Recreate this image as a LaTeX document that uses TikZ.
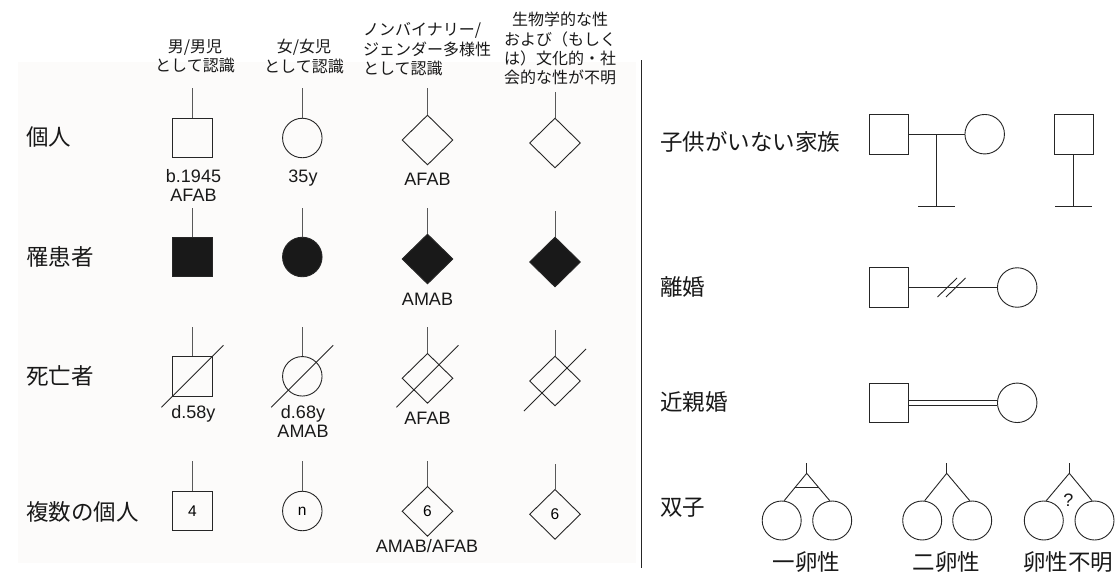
\documentclass[tikz,border=0pt]{standalone}
\usepackage{fontspec}
\setmainfont{Liberation Sans}
\newfontfamily\jp{Noto Sans CJK JP}
\usetikzlibrary{shapes.geometric,calc}
\definecolor{panel}{RGB}{252,251,250}
\begin{document}
\begin{tikzpicture}[x=1pt,y=-1pt,
  ln/.style={line width=0.9pt, draw=black!85},
  stub/.style={line width=0.9pt, draw=black!65},
  sq/.style={ln, rectangle, minimum size=39.5pt, inner sep=0pt},
  ci/.style={ln, circle, minimum size=39.5pt, inner sep=0pt},
  dm/.style={ln, diamond, minimum width=51pt, minimum height=50pt, inner sep=0pt},
  aff/.style={fill=black!90},
  lat/.style={font=\fontsize{18}{19}\selectfont, text=black!90, inner sep=0pt, anchor=base},
  num/.style={font=\fontsize{15.5}{15.5}\selectfont},
  hdr/.style={font=\jp\fontsize{16}{19.3}\selectfont, text=black!90, inner sep=0pt},
  rowlab/.style={font=\jp\fontsize{22.5}{24}\selectfont, text=black!90, anchor=west, inner sep=0pt},
  twinlab/.style={font=\jp\fontsize{22.5}{24}\selectfont, text=black!90, inner sep=0pt},
]
\useasboundingbox (0,0) rectangle (1120,576);
\fill[white] (0,0) rectangle (1120,576);
\fill[panel] (18,62) rectangle (636,563);

% ---------- headers ----------
\node[hdr, align=center] (h1) at (195,56.5) {男/男児\\として認識};
\node[hdr, align=center] (h2) at (304,56.5) {女/女児\\として認識};
\node[hdr, align=left, anchor=west] (h3) at (363,49.3) {ノンバイナリー/\\ジェンダー多様性\\として認識};
\node[hdr, align=center] (h4) at (560,48.7) {生物学的な性\\および（もしく\\は）文化的・社\\会的な性が不明};

% ---------- row labels (left) ----------
\node[rowlab] (r1) at (26,137) {個人};
\node[rowlab] (r2) at (26,257) {罹患者};
\node[rowlab] (r3) at (26,376) {死亡者};
\node[rowlab] (r4) at (26,511.5) {複数の個人};

% ---------- row 1 ----------
\node[sq] (s11) at (192.5,138) {};
\node[ci] (s12) at (302.3,138) {};
\node[dm] (s13) at (427.5,140) {};
\node[dm] (s14) at (555,143) {};
\coordinate (t11) at (192.5,88);
\coordinate (t12) at (302.3,88);
\coordinate (t13) at (427.5,88);
\coordinate (t14) at (555,92);
\draw[stub] (t11) -- (s11);
\draw[stub] (t12) -- (s12);
\draw[stub] (t13) -- (s13);
\draw[stub] (t14) -- (s14);
\node[lat] (l11a) at (193.5,182) {b.1945};
\node[lat] (l11b) at (193.5,201) {AFAB};
\node[lat] (l12) at (303,182) {35y};
\node[lat] (l13) at (427.5,185) {AFAB};

% ---------- row 2 ----------
\node[sq, aff] (s21) at (192.5,257) {};
\node[ci, aff] (s22) at (302.3,257) {};
\node[dm, aff] (s23) at (427.5,259) {};
\node[dm, aff] (s24) at (555,262) {};
\coordinate (t21) at (192.5,208);
\coordinate (t22) at (302.3,208);
\coordinate (t23) at (427.5,208);
\coordinate (t24) at (555,211);
\draw[stub] (t21) -- (s21);
\draw[stub] (t22) -- (s22);
\draw[stub] (t23) -- (s23);
\draw[stub] (t24) -- (s24);
\node[lat] (l23) at (427.5,305) {AMAB};

% ---------- row 3 ----------
\node[sq] (s31) at (192.5,376.3) {};
\node[ci] (s32) at (302.3,376.3) {};
\node[dm] (s33) at (427.5,378.3) {};
\node[dm] (s34) at (555,381) {};
\coordinate (t31) at (192.5,327);
\coordinate (t32) at (302.3,327);
\coordinate (t33) at (427.5,327);
\coordinate (t34) at (555,330);
\draw[stub] (t31) -- (s31);
\draw[stub] (t32) -- (s32);
\draw[stub] (t33) -- (s33);
\draw[stub] (t34) -- (s34);
\draw[ln] ($(s31.center)+(-31,31)$) -- ($(s31.center)+(31,-31)$);
\draw[ln] ($(s32.center)+(-31,31)$) -- ($(s32.center)+(31,-31)$);
\draw[ln] ($(s33.center)+(-31,29)$) -- ($(s33.center)+(31,-33)$);
\draw[ln] ($(s34.center)+(-31,30)$) -- ($(s34.center)+(31,-32)$);
\node[lat] (l31) at (193.3,418) {d.58y};
\node[lat] (l32a) at (303,418) {d.68y};
\node[lat] (l32b) at (303,437) {AMAB};
\node[lat] (l33) at (427.5,424) {AFAB};

% ---------- row 4 ----------
\node[sq, num] (s41) at (192.5,511) {4};
\node[ci, num] (s42) at (302.3,511) {n};
\node[dm, num] (s43) at (427.5,511.3) {6};
\node[dm, num] (s44) at (555,514.3) {6};
\coordinate (t41) at (192.5,461);
\coordinate (t42) at (302.3,461);
\coordinate (t43) at (427.5,461);
\coordinate (t44) at (555,464.3);
\draw[stub] (t41) -- (s41);
\draw[stub] (t42) -- (s42);
\draw[stub] (t43) -- (s43);
\draw[stub] (t44) -- (s44);
\node[lat] (l43) at (427,552.7) {AMAB/AFAB};

% ---------- divider ----------
\coordinate (dv1) at (641.7,60);
\coordinate (dv2) at (641.7,568);
\draw[ln] (dv1) -- (dv2);

% ---------- right: childless ----------
\node[rowlab] (q1) at (660,141.7) {子供がいない家族};
\node[sq] (cf1) at (888.7,134.2) {};
\node[ci] (cf2) at (984.7,134.2) {};
\draw[ln] (cf1) -- (cf2);
\coordinate (cfm) at (936.7,134.2);
\coordinate (cfb) at (936.7,206);
\coordinate (cfbl) at (918.3,206);
\coordinate (cfbr) at (955,206);
\draw[ln] (cfm) -- (cfb);
\draw[ln] (cfbl) -- (cfbr);
\node[sq] (cf3) at (1073.7,134.2) {};
\coordinate (cf3b) at (1073.7,206);
\coordinate (cf3l) at (1055,206);
\coordinate (cf3r) at (1092,206);
\draw[ln] (cf3) -- (cf3b);
\draw[ln] (cf3l) -- (cf3r);

% ---------- right: divorce ----------
\node[rowlab] (q2) at (660,286.7) {離婚};
\node[sq] (dv3) at (888.7,287.5) {};
\node[ci] (dv4) at (1017.2,287.5) {};
\draw[ln] (dv3) -- (dv4);
\coordinate (ds1a) at (937.5,297);
\coordinate (ds1b) at (957,278);
\coordinate (ds2a) at (946,297);
\coordinate (ds2b) at (965.5,278);
\draw[ln] (ds1a) -- (ds1b);
\draw[ln] (ds2a) -- (ds2b);

% ---------- right: consanguinity ----------
\node[rowlab] (q3) at (660,401.7) {近親婚};
\node[sq] (cs1) at (888.7,402.8) {};
\node[ci] (cs2) at (1017.2,402.8) {};
\draw[ln, double=white, double distance=4pt] (cs1) -- (cs2);

% ---------- right: twins ----------
\node[rowlab] (q4) at (660,508) {双子};
% monozygotic
\coordinate (tt1) at (806.7,463.3);
\coordinate (ta1) at (806.7,473.3);
\node[ci, minimum size=39pt] (tc1a) at (781.7,520.5) {};
\node[ci, minimum size=39pt] (tc1b) at (832.2,520.5) {};
\draw[ln] (tt1) -- (ta1);
\draw[ln] (tc1a.83) -- (ta1) -- (tc1b.97);
\draw[ln] ($(ta1)!0.52!(tc1a.83)$) -- ($(ta1)!0.52!(tc1b.97)$);
% dizygotic
\coordinate (tt2) at (946.7,463.3);
\coordinate (ta2) at (946.7,473.3);
\node[ci, minimum size=39pt] (tc2a) at (922.2,520.5) {};
\node[ci, minimum size=39pt] (tc2b) at (972.2,520.5) {};
\draw[ln] (tt2) -- (ta2);
\draw[ln] (tc2a.83) -- (ta2) -- (tc2b.97);
% unknown
\coordinate (tt3) at (1069.3,463.3);
\coordinate (ta3) at (1069.3,473.3);
\node[ci, minimum size=39pt] (tc3a) at (1043.8,520.5) {};
\node[ci, minimum size=39pt] (tc3b) at (1094.5,520.5) {};
\draw[ln] (tt3) -- (ta3);
\draw[ln] (tc3a.83) -- (ta3) -- (tc3b.97);
\node[font=\fontsize{18}{18}\selectfont, text=black!90, inner sep=0pt] (tq) at (1068.3,500) {?};
% labels
\node[twinlab] (tl1) at (806.7,562) {一卵性};
\node[twinlab] (tl2) at (946.7,562) {二卵性};
\node[twinlab] (tl3) at (1068,562) {卵性不明};
\end{tikzpicture}
\end{document}
